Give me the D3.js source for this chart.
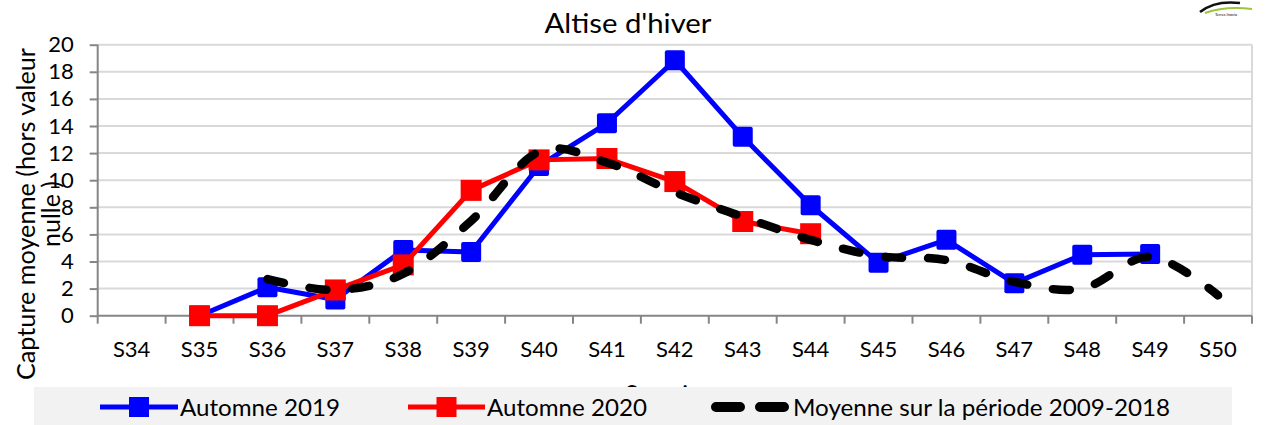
<!DOCTYPE html>
<html><head><meta charset="utf-8">
<script src="https://cdn.jsdelivr.net/npm/d3@7"></script>
<style>body{margin:0;background:#fff}svg{display:block}text{font-family:Lato,"Open Sans",sans-serif;fill:#000}</style>
</head><body><svg id="c" width="1266" height="425"></svg>
<script>
const categories = ["S34","S35","S36","S37","S38","S39","S40","S41","S42","S43","S44","S45","S46","S47","S48","S49","S50"];
const automne2019 = [null,0,2.1,1.2,4.85,4.7,11.05,14.2,18.85,13.2,8.15,3.9,5.6,2.4,4.5,4.55,null];
const automne2020 = [null,0,0,1.9,3.75,9.25,11.5,11.6,9.9,6.95,6.05,null,null,null,null,null,null];
const moyenne = [null,null,2.7,1.9,3.1,7.0,12.1,11.3,9.1,7.3,5.6,4.4,4.1,2.5,2.0,4.35,1.5];
const yTicks = [0,2,4,6,8,10,12,14,16,18,20];
const seriesNames = ["Automne 2019","Automne 2020","Moyenne sur la période 2009-2018"];

const svg = d3.select("#c");
const L=97.7, R=1252, T=44.7, B=315.7;
const x = d3.scaleBand().domain(categories).range([L,R]).padding(0);
const y = d3.scaleLinear().domain([0,20]).range([B,T]);

// gridlines
svg.append("g").selectAll("line").data(yTicks.filter(d=>d>0)).join("line")
  .attr("x1",L).attr("x2",R).attr("y1",d=>y(d)).attr("y2",d=>y(d))
  .attr("stroke","#d9d9d9").attr("stroke-width",2);
svg.append("line").attr("x1",R).attr("x2",R).attr("y1",T).attr("y2",B).attr("stroke","#d9d9d9").attr("stroke-width",2);

// y axis
const ya = svg.append("g").attr("transform",`translate(${L},0)`).call(d3.axisLeft(y).tickValues(yTicks).tickSize(8).tickPadding(16));
ya.select(".domain").attr("stroke","#868686").attr("stroke-width",2).attr("d",`M0,${T}V${B}`);
ya.selectAll(".tick line").attr("stroke","#868686").attr("stroke-width",2);
ya.selectAll("text").style("font-size","22px").style("font-family","Lato").attr("fill","#000");

// x axis
const xa = svg.append("g").attr("transform",`translate(0,${B})`).call(d3.axisBottom(x).tickSize(0).tickPadding(26));
xa.select(".domain").attr("stroke","#868686").attr("stroke-width",2).attr("d",`M${L},0H${R}`);
xa.selectAll("text").style("font-size","22px").style("font-family","Lato").attr("fill","#000");
svg.append("g").selectAll("line").data(categories.map(c=>x(c)).concat([R])).join("line")
  .attr("x1",d=>d).attr("x2",d=>d).attr("y1",B).attr("y2",B+8).attr("stroke","#868686").attr("stroke-width",2);

// axis titles
svg.append("text").attr("x",(L+R)/2).attr("y",402).attr("text-anchor","middle").style("font-size","24px").text("Semaines");
const yt = svg.append("text").attr("transform","translate(35,214) rotate(-90)").attr("text-anchor","middle").style("font-size","25px");
yt.append("tspan").attr("x",0).attr("y",0).attr("textLength",332).attr("lengthAdjust","spacingAndGlyphs").text("Capture moyenne (hors valeur");
yt.append("tspan").attr("x",0).attr("y",25).text("nulle )");

// title
svg.append("text").attr("x",628).attr("y",33).attr("text-anchor","middle").style("font-size","26px")
  .attr("textLength",167).attr("lengthAdjust","spacingAndGlyphs").text("Altise d'hiver");

// logo (small)
const lg = svg.append("g");
lg.append("path").attr("d","M1200,12 Q1215,0 1240,3").attr("fill","none").attr("stroke","#111").attr("stroke-width",2.5);
lg.append("path").attr("d","M1205,13 Q1225,6 1252,9").attr("fill","none").attr("stroke","#9bc53d").attr("stroke-width",2);
lg.append("text").attr("x",1226).attr("y",16).attr("text-anchor","middle").style("font-size","4px").attr("fill","#666").text("Terres Inovia");

// lines
const cx = c=>x(c)+x.bandwidth()/2;
const mk = (arr)=>categories.map((c,i)=>({c,v:arr[i]})).filter(d=>d.v!==null);
const straight = d3.line().x(d=>cx(d.c)).y(d=>y(d.v));
const smooth = d3.line().x(d=>cx(d.c)).y(d=>y(d.v)).curve(d3.curveCatmullRom.alpha(0));

svg.append("path").datum(mk(automne2019)).attr("d",straight).attr("fill","none").attr("stroke","#0000ff").attr("stroke-width",5).attr("stroke-linejoin","round");
svg.append("g").selectAll("rect").data(mk(automne2019)).join("rect")
  .attr("x",d=>cx(d.c)-10).attr("y",d=>y(d.v)-10).attr("width",20).attr("height",20).attr("rx",2).attr("fill","#0000ff");

svg.append("path").datum(mk(automne2020)).attr("d",straight).attr("fill","none").attr("stroke","#ff0000").attr("stroke-width",5).attr("stroke-linejoin","round");
svg.append("g").selectAll("rect").data(mk(automne2020)).join("rect")
  .attr("x",d=>cx(d.c)-10.5).attr("y",d=>y(d.v)-10.5).attr("width",21).attr("height",21).attr("fill","#ff0000");

svg.append("path").datum(mk(moyenne)).attr("d",smooth).attr("fill","none").attr("stroke","#000").attr("stroke-width",8.5)
  .attr("stroke-linecap","round").attr("stroke-dasharray","17,26");

// legend
svg.append("rect").attr("x",34).attr("y",387).attr("width",1198).attr("height",40).attr("fill","#f2f2f2");
const ly = 407;
const legendItems = [
  {x1:100,x2:178,color:"#0000ff",tx:180,marker:true,w:160},
  {x1:408,x2:485,color:"#ff0000",tx:487,marker:true,w:160},
  {x1:716,x2:788,color:"#000",tx:793,marker:false,w:377}
];
legendItems.forEach((it,i)=>{
  if(it.marker){
    svg.append("line").attr("x1",it.x1).attr("x2",it.x2).attr("y1",ly).attr("y2",ly).attr("stroke",it.color).attr("stroke-width",5);
    svg.append("rect").attr("x",(it.x1+it.x2)/2-10).attr("y",ly-10).attr("width",20).attr("height",20).attr("fill",it.color);
  } else {
    svg.append("line").attr("x1",it.x1).attr("x2",it.x2).attr("y1",ly).attr("y2",ly).attr("stroke",it.color).attr("stroke-width",10)
      .attr("stroke-linecap","round").attr("stroke-dasharray","24,20");
  }
  svg.append("text").attr("x",it.tx).attr("y",ly+9).style("font-size","24px")
    .attr("textLength",it.w).attr("lengthAdjust","spacingAndGlyphs").text(seriesNames[i]);
});
</script></body></html>
